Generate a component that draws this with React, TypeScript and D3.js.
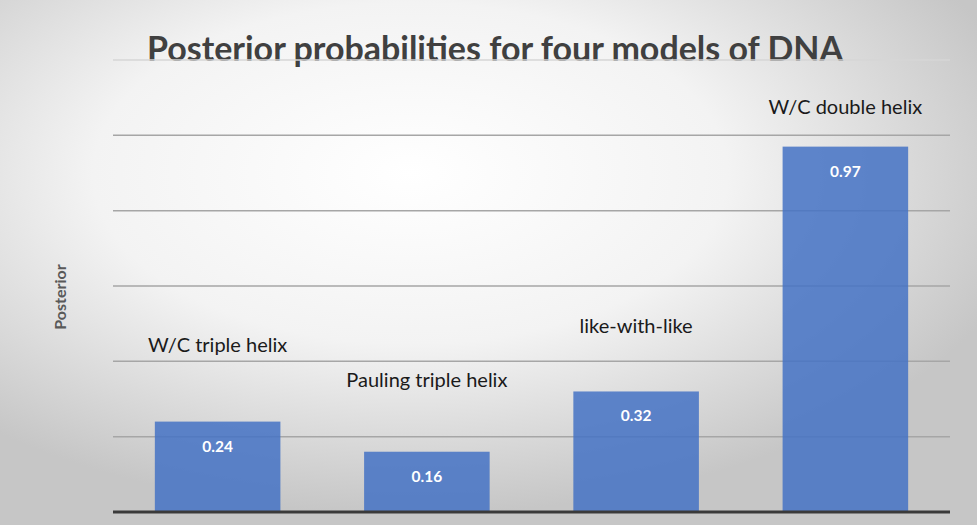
import React from 'react';
import * as d3 from 'd3';

const models = ['W/C triple helix', 'Pauling triple helix', 'like-with-like', 'W/C double helix'];
const posteriors = [0.24, 0.16, 0.32, 0.97];
const valueLabels = ['0.24', '0.16', '0.32', '0.97'];
const gridTicks = [0.2, 0.4, 0.6, 0.8, 1.0, 1.2];
// how far above the bar top each category label sits (in probability units)
const labelLift = [0.186, 0.171, 0.156, 0.086];

const W = 977;
const H = 525;
const margin = { top: 60, right: 27, bottom: 13, left: 113 };

export default function App() {
  const innerW = W - margin.left - margin.right;
  const innerH = H - margin.top - margin.bottom;

  const x = d3.scaleBand<string>().domain(models).range([0, innerW]).paddingInner(0.4).paddingOuter(0.2);
  const y = d3.scaleLinear().domain([0, 1.2]).range([innerH, 0]);

  return (
    <svg width={W} height={H} style={{ position: 'absolute', left: 0, top: 0, fontFamily: 'Lato, "Open Sans", sans-serif' }}>
      <defs>
        <radialGradient id="bg" cx="0.42" cy="0.33" r="0.65">
          <stop offset="0" stopColor="#ffffff" />
          <stop offset="0.5" stopColor="#f3f3f3" />
          <stop offset="1" stopColor="#c6c6c6" />
        </radialGradient>
      </defs>
      <rect width={W} height={H} fill="url(#bg)" />

      <text x={495} y={61} textAnchor="middle" fontSize={34} fontWeight="bold" fill="#404040">
        Posterior probabilities for four models of DNA
      </text>

      <text transform="translate(66,297) rotate(-90)" textAnchor="middle" fontSize={16} fontWeight="bold" fill="#595959">
        Posterior
      </text>

      <g transform={`translate(${margin.left},${margin.top})`}>
        {gridTicks.map((t, i) => (
          <line key={t} x1={0} x2={innerW} y1={y(t)} y2={y(t)}
            stroke={i === gridTicks.length - 1 ? '#d6d6d6' : '#a6a6a6'} strokeWidth={1.5} />
        ))}

        {models.map((m, i) => (
          <rect key={m} x={x(m)} y={y(posteriors[i])} width={x.bandwidth()} height={innerH - y(posteriors[i])}
            fill="#4472c4" fillOpacity={0.85} />
        ))}

        {models.map((m, i) => (
          <text key={m + 'v'} x={(x(m) || 0) + x.bandwidth() / 2} y={y(posteriors[i]) + 30}
            textAnchor="middle" fontSize={15.5} fontWeight="bold" fill="#ffffff">
            {valueLabels[i]}
          </text>
        ))}

        {models.map((m, i) => (
          <text key={m + 'c'} x={(x(m) || 0) + x.bandwidth() / 2} y={y(posteriors[i] + labelLift[i])}
            textAnchor="middle" fontSize={20} fill="#1a1a1a">
            {m}
          </text>
        ))}

        <line x1={0} x2={innerW} y1={innerH} y2={innerH} stroke="#3a3a3a" strokeWidth={3} />
      </g>
    </svg>
  );
}
